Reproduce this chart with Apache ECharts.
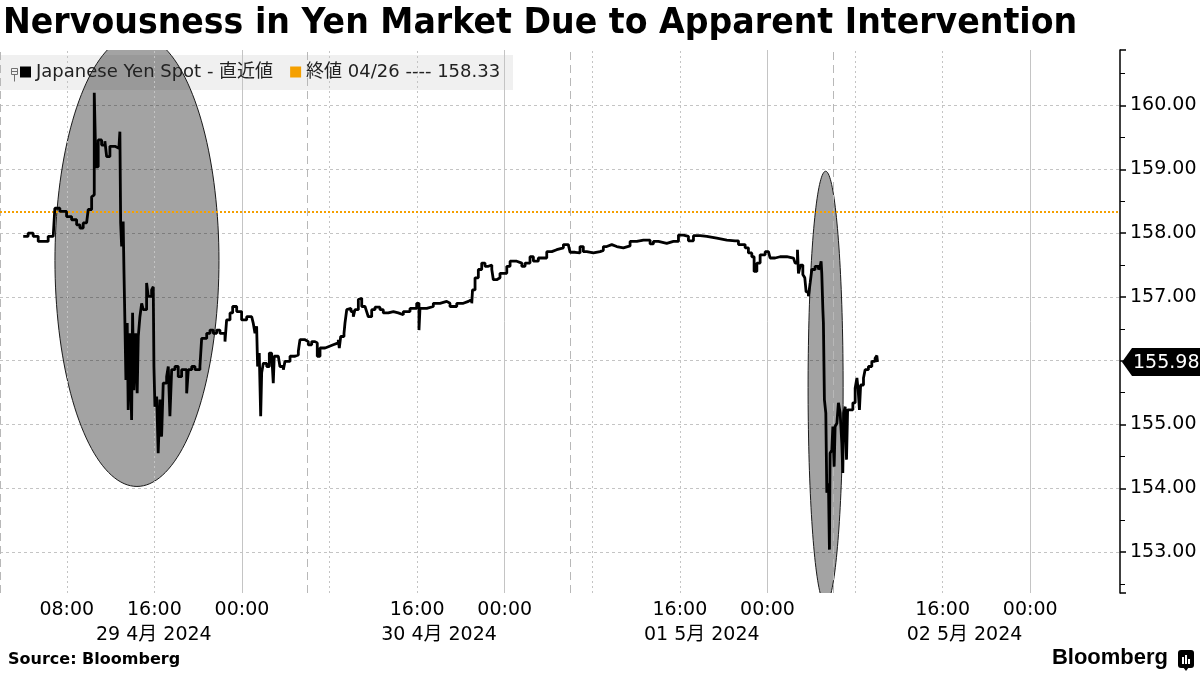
<!DOCTYPE html>
<html><head><meta charset="utf-8">
<script src="https://cdn.jsdelivr.net/npm/echarts@6/dist/echarts.min.js"></script>
<style>html,body{margin:0;padding:0;background:#fff}#c{width:1200px;height:675px}</style>
</head><body><div id="c"></div><script>
const titleText = 'Nervousness in Yen Market Due to Apparent Intervention';
const sourceText = 'Source: Bloomberg';
const brandText = 'Bloomberg';
const seriesName = 'Japanese Yen Spot - 直近値';
const refName = '終値 04/26 ---- 158.33';
const refValue = 158.33;
// x values: hours since 29 Apr 2024 00:00 (Tokyo time)
const xMin = 1.9, xMax = 104.2;
const yMin = 152.36, yMax = 160.87;
const timeTicks = [8, 16, 24, 40, 48, 64, 72, 88, 96];
const dateLabelHours = [15.95, 42, 66, 90];
const dateLabels = ['29 4月 2024', '30 4月 2024', '01 5月 2024', '02 5月 2024'];
const midnightLines = [24, 48, 72, 96];
const hourLines = [8, 16, 32, 40, 56, 64, 80, 88];
const sessionLines = [1.9, 30, 54, 78];
const yLabels = [153, 154, 155, 156, 157, 158, 159, 160];
// highlight ellipses: [centre hour, centre value, half-width hours, half-height value]
const highlights = [[14.41, 157.57, 7.49, 3.54], [77.31, 155.58, 1.60, 3.39]];
const yenSpot = [
[4.02,157.95],[4.47,158.00],[4.93,157.95],[5.39,157.87],[5.85,157.87],[6.30,157.95],[6.76,157.97],[6.91,158.39],[7.37,158.34],[7.98,158.26],
[8.44,158.21],[8.90,158.13],[9.20,158.08],[9.50,158.16],[9.81,158.18],[9.96,158.37],[10.27,158.57],[10.41,158.60],[10.51,160.20],[10.66,159.04],
[10.87,159.46],[11.18,159.38],[11.48,159.44],[11.64,159.20],[11.94,159.36],[12.40,159.33],[12.76,159.36],[12.85,159.59],[12.92,158.16],[13.01,157.79],
[13.15,158.18],[13.22,157.43],[13.31,156.59],[13.40,155.70],[13.52,156.59],[13.61,155.23],[13.77,156.43],[13.92,155.07],[14.01,156.75],[14.13,155.54],
[14.29,156.43],[14.43,155.49],[14.53,156.38],[14.68,156.69],[14.84,156.90],[14.98,156.80],[15.29,157.22],[15.44,157.01],[15.75,157.11],[15.90,157.16],
[15.96,155.91],[16.05,155.28],[16.21,155.44],[16.35,154.55],[16.51,155.39],[16.66,154.81],[16.81,155.65],[17.12,155.75],[17.27,155.91],[17.42,155.13],
[17.58,155.86],[17.88,155.91],[18.18,155.75],[18.49,155.86],[18.95,155.49],[19.10,155.86],[19.41,155.91],[19.71,155.86],[20.16,155.91],[20.32,156.35],
[20.78,156.43],[21.08,156.48],[21.38,156.43],[21.69,156.48],[21.99,156.43],[22.45,156.30],[22.60,156.64],[22.91,156.75],[23.15,156.85],[23.52,156.77],
[23.97,156.64],[24.43,156.69],[24.89,156.72],[25.03,156.59],[25.19,156.43],[25.34,156.54],[25.43,155.91],[25.58,156.12],[25.71,155.13],[25.80,155.81],
[25.95,155.96],[26.26,155.91],[26.50,156.12],[26.71,156.15],[26.86,155.65],[26.95,156.07],[27.32,156.04],[27.47,155.91],[27.78,155.86],[27.93,155.99],
[28.39,156.07],[28.85,156.09],[29.15,156.15],[29.30,156.33],[29.76,156.30],[30.06,156.25],[30.37,156.30],[30.67,156.28],[30.88,156.07],[31.13,156.20],
[31.59,156.22],[31.89,156.25],[32.34,156.28],[32.80,156.33],[32.89,156.20],[33.02,156.38],[33.32,156.43],[33.41,156.59],[33.57,156.80],[33.71,156.82],
[33.96,156.77],[34.17,156.69],[34.32,156.80],[34.63,156.96],[34.78,156.98],[34.94,156.85],[35.24,156.82],[35.39,156.77],[35.54,156.69],[35.85,156.80],
[36.15,156.84],[36.61,156.80],[36.91,156.75],[37.37,156.77],[37.83,156.75],[38.28,156.72],[38.74,156.77],[39.35,156.82],[39.96,156.90],[40.17,156.48],
[40.26,156.82],[40.88,156.85],[41.48,156.90],[42.09,156.93],[42.70,156.90],[43.00,156.85],[43.62,156.90],[44.22,156.93],[44.68,156.96],[44.99,156.90],
[45.06,157.11],[45.29,157.30],[45.59,157.43],[45.90,157.53],[46.20,157.48],[46.51,157.50],[46.82,157.43],[46.96,157.27],[47.27,157.30],[47.57,157.37],
[47.88,157.37],[48.19,157.48],[48.49,157.56],[49.10,157.53],[49.56,157.48],[49.86,157.53],[50.31,157.63],[50.62,157.56],[51.07,157.61],[51.84,157.71],
[52.30,157.74],[52.75,157.77],[53.36,157.82],[53.81,157.83],[53.97,157.70],[54.43,157.69],[54.88,157.79],[55.18,157.71],[55.49,157.69],[56.10,157.71],
[56.71,157.73],[57.01,157.79],[57.32,157.82],[57.78,157.79],[58.23,157.77],[58.84,157.80],[59.45,157.87],[60.06,157.89],[60.67,157.89],[61.28,157.83],
[61.58,157.87],[62.04,157.84],[62.80,157.87],[63.41,157.87],[63.87,157.97],[64.32,157.95],[64.78,157.88],[65.24,157.96],[65.85,157.95],[66.46,157.92],
[67.37,157.89],[68.29,157.88],[69.05,157.88],[69.35,157.82],[69.96,157.77],[70.26,157.69],[70.57,157.63],[70.78,157.40],[71.03,157.53],[71.33,157.66],
[71.79,157.71],[72.09,157.69],[72.24,157.61],[72.70,157.63],[73.15,157.63],[73.77,157.61],[74.37,157.58],[74.53,157.53],[74.74,157.74],[74.83,157.37],
[75.01,157.50],[75.23,157.35],[75.41,157.30],[75.53,157.08],[75.74,157.01],[75.90,157.22],[76.05,157.43],[76.35,157.48],[76.66,157.43],[76.81,157.48],
[76.90,157.56],[76.96,157.37],[77.06,156.80],[77.11,156.59],[77.20,155.39],[77.33,155.18],[77.42,153.93],[77.57,154.08],[77.66,153.04],[77.72,154.55],
[77.88,154.60],[77.97,154.97],[78.09,154.34],[78.18,154.97],[78.34,155.02],[78.48,155.34],[78.64,155.18],[78.79,154.71],[78.88,154.24],[78.96,155.18],
[79.10,155.28],[79.22,154.45],[79.32,155.23],[79.55,155.23],[79.80,155.34],[80.01,155.57],[80.17,155.73],[80.28,155.55],[80.40,155.23],[80.51,155.62],
[80.77,155.73],[80.92,155.86],[81.22,155.91],[81.53,155.99],[81.83,156.04],[81.99,156.08],[82.05,155.98]
];

const FONT = "'DejaVu Sans','Noto Sans CJK JP',sans-serif";
const ORANGE = '#f5a000';
const GRID = '#c4c4c4';
const pad2 = n => (n < 10 ? '0' : '') + n;

function xLabel(v) {
  for (let i = 0; i < dateLabelHours.length; i++) {
    if (Math.abs(dateLabelHours[i] - v) < 0.001) return '\n' + dateLabels[i];
  }
  const h = Math.round(v) % 24;
  return pad2(h) + ':00';
}

const vLines = []
  .concat(midnightLines.map(x => ({xAxis: x, lineStyle: {type: 'solid', color: GRID, width: 1}})))
  .concat(hourLines.map(x => ({xAxis: x, lineStyle: {type: [2, 3], color: GRID, width: 1}})))
  .concat(sessionLines.map(x => ({xAxis: x, lineStyle: {type: [8, 5], color: '#b8b8b8', width: 1}})));

const last = yenSpot[yenSpot.length - 1];

const chart = echarts.init(document.getElementById('c'), null, {renderer: 'canvas'});
chart.setOption({
  animation: false,
  backgroundColor: '#fff',
  legend: {
    left: 0, top: 55, z: 10, padding: [8, 12, 8, 20], itemGap: 17,
    itemWidth: 11, itemHeight: 11, icon: 'rect', selectedMode: false,
    textStyle: {fontFamily: FONT, fontSize: 18, color: '#222'},
    data: [{name: seriesName, itemStyle: {color: '#000'}}, {name: refName, itemStyle: {color: ORANGE}}]
  },
  grid: {left: 0, right: 80, top: 50, bottom: 82},
  xAxis: {
    type: 'value', min: xMin, max: xMax,
    axisLine: {show: false}, axisTick: {show: false}, splitLine: {show: false},
    axisLabel: {
      customValues: timeTicks.concat(dateLabelHours), formatter: xLabel,
      fontFamily: FONT, fontSize: 19, color: '#000', lineHeight: 25, margin: 5
    }
  },
  yAxis: {
    type: 'value', position: 'right', min: yMin, max: yMax, splitNumber: 8,
    axisLine: {show: true, lineStyle: {color: '#000', width: 1.5}},
    axisTick: {show: true, length: 6, lineStyle: {color: '#000', width: 1.5}},
    minorTick: {show: true, splitNumber: 2, length: 5, lineStyle: {color: '#000', width: 1}},
    splitLine: {show: true, showMinLine: false, showMaxLine: false, lineStyle: {color: GRID, type: [3, 3], width: 1}},
    axisLabel: {
      customValues: yLabels, formatter: v => v.toFixed(2),
      fontFamily: FONT, fontSize: 19, color: '#000', margin: 10
    }
  },
  graphic: [
    {type: 'text', x: 3, y: 6, scaleX: 0.923, z: 20, style: {text: titleText, font: 'bold 36px "DejaVu Sans"', fill: '#000'}},
    {type: 'group', left: 9, top: 66, z: 20, children: [
      {type: 'rect', shape: {x: 0, y: 0, width: 6, height: 6}, style: {fill: 'none', stroke: '#777', lineWidth: 1}},
      {type: 'line', shape: {x1: 0, y1: 3, x2: 6, y2: 3}, style: {stroke: '#777', lineWidth: 1}},
      {type: 'line', shape: {x1: 3, y1: 6, x2: 3, y2: 13}, style: {stroke: '#777', lineWidth: 1}}
    ]},
    {type: 'text', left: 8, top: 652, z: 20, style: {text: sourceText, font: 'bold 16px "DejaVu Sans"', fill: '#000'}},
    {type: 'text', right: 32, top: 647, z: 20, style: {text: brandText, font: 'bold 22px "Liberation Sans"', fill: '#000'}},
    {type: 'group', right: 6, top: 650, z: 20, children: [
      {type: 'rect', shape: {x: 0, y: 0, width: 16, height: 18, r: 3}, style: {fill: '#000'}},
      {type: 'polygon', shape: {points: [[5, 17], [11, 17], [8, 21]]}, style: {fill: '#000'}},
      {type: 'rect', shape: {x: 4, y: 7, width: 2, height: 7}, style: {fill: '#fff'}},
      {type: 'rect', shape: {x: 7, y: 5, width: 2, height: 9}, style: {fill: '#fff'}},
      {type: 'rect', shape: {x: 10, y: 9, width: 2, height: 5}, style: {fill: '#fff'}}
    ]}
  ],
  series: [
    {
      type: 'custom', name: 'legend-box', z: 2, clip: false, silent: true,
      data: [[xMin, yMax]],
      encode: {x: 0, y: 1},
      renderItem: function (params, api) {
        const cs = params.coordSys;
        return {type: 'rect', shape: {x: cs.x, y: cs.y + 5, width: 513, height: 35}, style: {fill: 'rgba(0,0,0,0.06)'}};
      }
    },
    {
      type: 'line', name: 'grid-lines', data: [], z: 1, silent: true,
      markLine: {silent: true, symbol: ['none', 'none'], label: {show: false}, animation: false, data: vLines}
    },
    {
      type: 'custom', name: 'highlight', z: 3, clip: true, silent: true,
      data: highlights,
      encode: {x: 0, y: 1},
      renderItem: function (params, api) {
        const hc = api.value(0), vc = api.value(1), rh = api.value(2), rv = api.value(3);
        const pts = [];
        for (let k = 0; k < 160; k++) {
          const a = 2 * Math.PI * k / 160;
          pts.push(api.coord([hc + rh * Math.cos(a), vc + rv * Math.sin(a)]));
        }
        return {type: 'polygon', shape: {points: pts}, style: {fill: 'rgba(0,0,0,0.36)', stroke: '#1a1a1a', lineWidth: 1}};
      }
    },
    {
      type: 'line', name: refName, data: [], z: 4,
      itemStyle: {color: ORANGE}, lineStyle: {color: ORANGE},
      markLine: {
        silent: true, symbol: ['none', 'none'], label: {show: false}, animation: false,
        lineStyle: {color: ORANGE, type: 'dotted', width: 2}, data: [{yAxis: refValue}]
      }
    },
    {
      type: 'line', name: seriesName, data: yenSpot, z: 5, symbol: 'none', showSymbol: false,
      step: 'end',
      lineStyle: {color: '#000', width: 2.8}, itemStyle: {color: '#000'}
    },
    {
      type: 'custom', name: 'last-tag', z: 6, clip: false, silent: true,
      data: [last],
      encode: {x: 0, y: 1},
      renderItem: function (params, api) {
        const p = api.coord([xMax, api.value(1)]);
        const x = p[0], y = p[1];
        return {type: 'group', children: [
          {type: 'polygon', shape: {points: [[x + 2, y], [x + 12, y - 14], [x + 80, y - 14], [x + 80, y + 14], [x + 12, y + 14]]}, style: {fill: '#000'}},
          {type: 'text', style: {text: api.value(1).toFixed(2), x: x + 13, y: y + 1, fill: '#fff', fontFamily: FONT, fontSize: 19, verticalAlign: 'middle', align: 'left'}}
        ]};
      }
    }
  ]
});
</script></body></html>
